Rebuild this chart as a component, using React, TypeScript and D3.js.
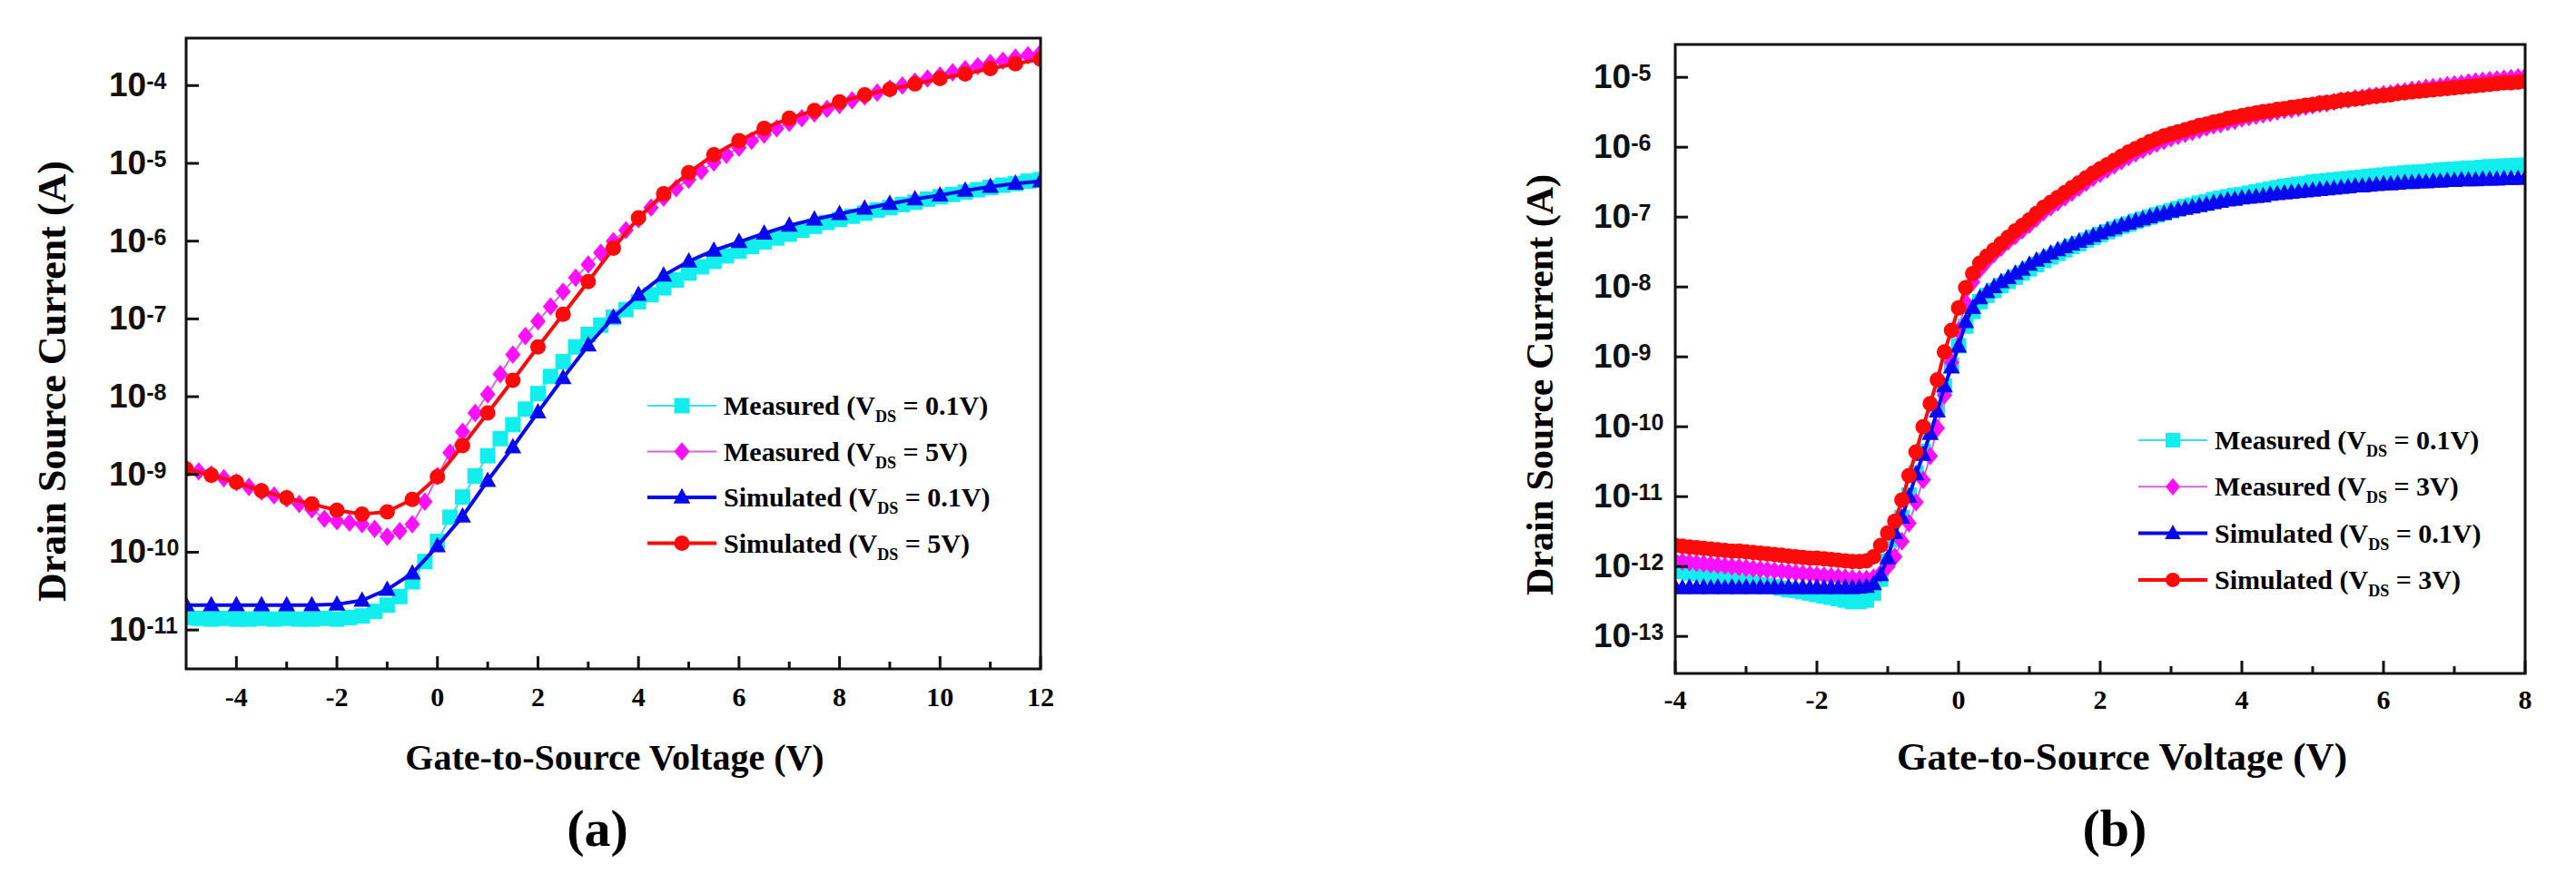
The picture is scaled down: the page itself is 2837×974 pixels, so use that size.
import React, { useRef, useEffect } from "react";
import * as d3 from "d3";

// ---------- panel (a): transfer curves, Vgs from -5 to 12 V ----------
// currents are given as log10(Ids / A)
const vgsMeasA = d3.range(69).map(i => -5 + i * 0.25); // measured sweep, 0.25 V step
const vgsSimA = d3.range(35).map(i => -5 + i * 0.5); // simulated points, 0.5 V step

const measA_01 = [
  -10.84, -10.85, -10.86, -10.85, -10.86, -10.86, -10.85, -10.86, -10.85, -10.86, -10.86, -10.85, -10.86, -10.84,
  -10.82, -10.76, -10.68, -10.57, -10.38, -10.12, -9.86,
  -9.55, -9.29, -9.02, -8.76, -8.54, -8.36, -8.16, -7.96, -7.74, -7.55, -7.36, -7.20,
  -7.08, -6.98, -6.88, -6.78, -6.69, -6.60, -6.50, -6.41, -6.33, -6.26, -6.19, -6.13,
  -6.07, -6.01, -5.96, -5.91, -5.86, -5.81, -5.76, -5.72, -5.68, -5.64, -5.60, -5.57,
  -5.53, -5.50, -5.46, -5.43, -5.40, -5.37, -5.34, -5.31, -5.28, -5.26, -5.23, -5.21,
];
const measA_5 = [
  -8.92, -8.96, -9.0, -9.05, -9.1, -9.16, -9.22, -9.27, -9.31, -9.38, -9.45, -9.57, -9.6, -9.62,
  -9.64, -9.7, -9.8, -9.73, -9.64, -9.35, -9.02,
  -8.72, -8.45, -8.21, -7.97, -7.71, -7.46, -7.22, -7.03, -6.84, -6.65, -6.47, -6.3,
  -6.15, -6.0, -5.86, -5.72, -5.57, -5.44, -5.32, -5.21, -5.1, -4.99, -4.89, -4.8,
  -4.71, -4.63, -4.55, -4.48, -4.42, -4.36, -4.3, -4.25, -4.19, -4.14, -4.09, -4.04,
  -4.0, -3.95, -3.91, -3.87, -3.83, -3.79, -3.75, -3.71, -3.68, -3.64, -3.61, -3.58,
];
const simA_01 = [
  -10.68, -10.68, -10.68, -10.68, -10.68, -10.68, -10.67, -10.62, -10.48, -10.27, -9.92, -9.54,
  -9.08, -8.65, -8.2, -7.76, -7.34, -6.98, -6.69, -6.44, -6.26, -6.12, -6.01, -5.9,
  -5.8, -5.72, -5.65, -5.58, -5.52, -5.46, -5.41, -5.35, -5.3, -5.26, -5.23,
];
const simA_5 = [
  -8.93, -9.01, -9.1, -9.21, -9.3, -9.38, -9.46, -9.51, -9.48, -9.32, -9.03, -8.63,
  -8.21, -7.79, -7.36, -6.94, -6.52, -6.09, -5.7, -5.39, -5.12, -4.89, -4.71, -4.55,
  -4.42, -4.32, -4.21, -4.12, -4.05, -3.98, -3.91, -3.85, -3.78, -3.72, -3.66,
];
const xMajorA = [-4, -2, 0, 2, 4, 6, 8, 10, 12];
const xMinorA = [-3, -1, 1, 3, 5, 7, 9, 11];
const yExpA = [-4, -5, -6, -7, -8, -9, -10, -11];
const vdsLabelsA = ["0.1V", "5V", "0.1V", "5V"];

// ---------- panel (b): Vgs from -4 to 8 V, dense sweep ----------
const vgsB = d3.range(121).map(i => -4 + i * 0.1);

const measB_01 = [
  -12.05, -12.07, -12.09, -12.1, -12.12, -12.14, -12.16, -12.17, -12.19, -12.21,
  -12.22, -12.24, -12.26, -12.27, -12.29, -12.31, -12.33, -12.34, -12.36, -12.38,
  -12.4, -12.42, -12.44, -12.46, -12.48, -12.5, -12.5, -12.48, -12.38, -12.18,
  -11.92, -11.62, -11.3, -10.98, -10.66, -10.35, -10.05, -9.74, -9.42, -9.12,
  -8.84, -8.56, -8.35, -8.21, -8.12, -8.05, -7.98, -7.92, -7.86, -7.8,
  -7.74, -7.68, -7.62, -7.57, -7.52, -7.47, -7.42, -7.38, -7.33, -7.29,
  -7.25, -7.21, -7.17, -7.13, -7.1, -7.06, -7.03, -7.0, -6.97, -6.94,
  -6.91, -6.88, -6.85, -6.83, -6.8, -6.78, -6.75, -6.73, -6.71, -6.69,
  -6.68, -6.66, -6.64, -6.62, -6.6, -6.58, -6.56, -6.55, -6.53, -6.52,
  -6.5, -6.49, -6.48, -6.47, -6.46, -6.45, -6.44, -6.43, -6.42, -6.41,
  -6.4, -6.39, -6.38, -6.37, -6.36, -6.36, -6.35, -6.34, -6.33, -6.32,
  -6.32, -6.31, -6.3, -6.3, -6.29, -6.28, -6.28, -6.27, -6.27, -6.26,
  -6.26,
];
const measB_3 = [
  -11.92, -11.93, -11.94, -11.95, -11.96, -11.97, -11.98, -11.99, -12.0, -12.01,
  -12.02, -12.03, -12.04, -12.05, -12.06, -12.07, -12.08, -12.09, -12.1, -12.11,
  -12.12, -12.13, -12.14, -12.15, -12.16, -12.17, -12.18, -12.18, -12.16, -12.1,
  -12.0, -11.86, -11.64, -11.38, -11.08, -10.76, -10.42, -10.02, -9.55, -9.08,
  -8.62, -8.22, -7.93, -7.75, -7.63, -7.53, -7.44, -7.35, -7.27, -7.19,
  -7.11, -7.02, -6.93, -6.86, -6.79, -6.72, -6.65, -6.58, -6.51, -6.44,
  -6.38, -6.32, -6.26, -6.2, -6.14, -6.09, -6.04, -5.99, -5.95, -5.91,
  -5.87, -5.84, -5.81, -5.78, -5.75, -5.72, -5.69, -5.67, -5.64, -5.62,
  -5.59, -5.57, -5.55, -5.53, -5.51, -5.49, -5.47, -5.46, -5.44, -5.42,
  -5.4, -5.38, -5.37, -5.35, -5.33, -5.32, -5.3, -5.29, -5.27, -5.26,
  -5.24, -5.23, -5.21, -5.2, -5.18, -5.17, -5.15, -5.14, -5.13, -5.11,
  -5.1, -5.09, -5.07, -5.06, -5.05, -5.04, -5.03, -5.02, -5.01, -5.0,
  -4.99,
];
const simB_01 = [
  -12.3, -12.31, -12.3, -12.31, -12.3, -12.31, -12.3, -12.31, -12.3, -12.31,
  -12.3, -12.31, -12.3, -12.31, -12.3, -12.31, -12.3, -12.31, -12.3, -12.31,
  -12.3, -12.31, -12.3, -12.31, -12.3, -12.31, -12.3, -12.29, -12.25, -12.12,
  -11.88, -11.52, -11.3, -11.0, -10.68, -10.4, -10.1, -9.78, -9.42, -9.15,
  -8.85, -8.5, -8.3, -8.16, -8.07, -8.0, -7.93, -7.87, -7.81, -7.75,
  -7.68, -7.62, -7.57, -7.52, -7.47, -7.43, -7.39, -7.35, -7.31, -7.27,
  -7.23, -7.19, -7.16, -7.12, -7.09, -7.06, -7.03, -7.0, -6.97, -6.95,
  -6.92, -6.9, -6.88, -6.86, -6.84, -6.82, -6.8, -6.78, -6.76, -6.75,
  -6.73, -6.72, -6.71, -6.7, -6.68, -6.67, -6.66, -6.65, -6.64, -6.63,
  -6.62, -6.61, -6.6, -6.59, -6.58, -6.57, -6.56, -6.56, -6.55, -6.54,
  -6.53, -6.53, -6.52, -6.51, -6.51, -6.5, -6.5, -6.49, -6.49, -6.48,
  -6.48, -6.47, -6.47, -6.47, -6.46, -6.46, -6.46, -6.45, -6.45, -6.45,
  -6.44,
];
const simB_3 = [
  -11.7, -11.71, -11.72, -11.73, -11.74, -11.75, -11.76, -11.77, -11.78, -11.78,
  -11.79, -11.8, -11.81, -11.82, -11.83, -11.84, -11.85, -11.86, -11.87, -11.88,
  -11.88, -11.89, -11.9, -11.91, -11.92, -11.93, -11.93, -11.92, -11.86, -11.7,
  -11.52, -11.35, -11.05, -10.7, -10.36, -10.0, -9.67, -9.33, -8.93, -8.62,
  -8.3, -8.01, -7.81, -7.66, -7.56, -7.47, -7.38, -7.29, -7.2, -7.12,
  -7.04, -6.95, -6.86, -6.79, -6.72, -6.65, -6.58, -6.51, -6.44, -6.37,
  -6.31, -6.25, -6.19, -6.13, -6.07, -6.02, -5.97, -5.92, -5.88, -5.84,
  -5.81, -5.78, -5.75, -5.72, -5.69, -5.67, -5.64, -5.62, -5.59, -5.57,
  -5.55, -5.53, -5.51, -5.49, -5.48, -5.46, -5.45, -5.43, -5.42, -5.4,
  -5.39, -5.37, -5.36, -5.35, -5.33, -5.32, -5.31, -5.3, -5.28, -5.27,
  -5.26, -5.25, -5.23, -5.22, -5.21, -5.2, -5.19, -5.18, -5.17, -5.16,
  -5.15, -5.14, -5.13, -5.12, -5.11, -5.1, -5.09, -5.08, -5.08, -5.07,
  -5.06,
];
const xMajorB = [-4, -2, 0, 2, 4, 6, 8];
const xMinorB = [-3, -1, 1, 3, 5, 7];
const yExpB = [-5, -6, -7, -8, -9, -10, -11, -12, -13];
const vdsLabelsB = ["0.1V", "3V", "0.1V", "3V"];

const legendNames = ["Measured", "Measured", "Simulated", "Simulated"];

const SERIF = "'Liberation Serif', 'Times New Roman', serif";
const SANS = "'Liberation Sans', Arial, sans-serif";

// marker shapes, size = edge length squared
const squareSym = { draw(c, s) { const h = Math.sqrt(s) / 2; c.rect(-h, -h, 2 * h, 2 * h); } };
const diamondSym = { draw(c, s) { const h = Math.sqrt(s) / 2; c.moveTo(0, -h * 1.2); c.lineTo(h, 0); c.lineTo(0, h * 1.2); c.lineTo(-h, 0); c.closePath(); } };
const triangleSym = { draw(c, s) { const h = Math.sqrt(s) / 2; c.moveTo(0, -h * 1.2); c.lineTo(h * 1.1, h * 0.8); c.lineTo(-h * 1.1, h * 0.8); c.closePath(); } };
const circleSym = { draw(c, s) { const h = Math.sqrt(s) / 2; c.moveTo(h, 0); c.arc(0, 0, h, 0, 2 * Math.PI); } };

const seriesStyle = [
  { fill: "#12eeee", line: "#3ae0e0", lw: 2, shape: squareSym },
  { fill: "#ff10ff", line: "#d466d8", lw: 2, shape: diamondSym },
  { fill: "#0808f0", line: "#0808f0", lw: 4, shape: triangleSym },
  { fill: "#ff0a0a", line: "#ff0a0a", lw: 4, shape: circleSym },
];

const panelA = {
  id: "a", left: 205, right: 1146, top: 42, bottom: 737,
  xDomain: [-5, 12], yDomain: [Math.pow(10, -11.5), Math.pow(10, -3.39)],
  xMajor: xMajorA, xMinor: xMinorA, yExp: yExpA,
  series: [
    [vgsMeasA, measA_01], [vgsMeasA, measA_5], [vgsSimA, simA_01], [vgsSimA, simA_5],
  ],
  mSize: 17, legSize: 17, vds: vdsLabelsA,
  yLabX: 120, xTickY: 778, xTitleX: 677, xTitleY: 848, xTitleSize: 40,
  yTitleX: 72, yTitleY: 420, yTitleSize: 44,
  tag: "(a)", tagX: 658, tagY: 932,
  legX: 713, legY: 447, legStep: 50.5,
};
const panelB = {
  id: "b", left: 1845, right: 2781, top: 49, bottom: 742,
  xDomain: [-4, 8], yDomain: [Math.pow(10, -13.53), Math.pow(10, -4.53)],
  xMajor: xMajorB, xMinor: xMinorB, yExp: yExpB,
  series: [
    [vgsB, measB_01], [vgsB, measB_3], [vgsB, simB_01], [vgsB, simB_3],
  ],
  mSize: 17, legSize: 16, vds: vdsLabelsB,
  yLabX: 1755, xTickY: 781, xTitleX: 2337, xTitleY: 848, xTitleSize: 43,
  yTitleX: 1710, yTitleY: 424, yTitleSize: 42,
  tag: "(b)", tagX: 2329, tagY: 932,
  legX: 2355, legY: 485, legStep: 51.3,
};

function drawPanel(root, p) {
  const g = root.append("g");
  const x = d3.scaleLinear().domain(p.xDomain).range([p.left, p.right]);
  const y = d3.scaleLog().domain(p.yDomain).range([p.bottom, p.top]);

  g.append("clipPath").attr("id", "clip-" + p.id)
    .append("rect").attr("x", p.left).attr("y", p.top)
    .attr("width", p.right - p.left).attr("height", p.bottom - p.top);

  const plot = g.append("g").attr("clip-path", `url(#clip-${p.id})`);
  const line = d3.line().x(d => x(d[0])).y(d => y(d[1]));

  p.series.forEach(([vs, logI], k) => {
    const st = seriesStyle[k];
    const pts = vs.map((v, i) => [v, Math.pow(10, logI[i])]);
    plot.append("path").attr("d", line(pts)).attr("fill", "none")
      .attr("stroke", st.line).attr("stroke-width", st.lw);
    plot.append("g").selectAll("path").data(pts).join("path")
      .attr("transform", d => `translate(${x(d[0])},${y(d[1])})`)
      .attr("d", d3.symbol().type(st.shape).size(p.mSize * p.mSize))
      .attr("fill", st.fill);
  });

  // frame
  g.append("rect").attr("x", p.left).attr("y", p.top)
    .attr("width", p.right - p.left).attr("height", p.bottom - p.top)
    .attr("fill", "none").attr("stroke", "#111").attr("stroke-width", 3);

  // bottom ticks, pointing inward
  g.selectAll(null).data(p.xMajor).join("line")
    .attr("x1", d => x(d)).attr("x2", d => x(d))
    .attr("y1", p.bottom).attr("y2", p.bottom - 14)
    .attr("stroke", "#111").attr("stroke-width", 3);
  g.selectAll(null).data(p.xMinor).join("line")
    .attr("x1", d => x(d)).attr("x2", d => x(d))
    .attr("y1", p.bottom).attr("y2", p.bottom - 8)
    .attr("stroke", "#111").attr("stroke-width", 3);
  g.selectAll(null).data(p.xMajor).join("text")
    .attr("x", d => x(d)).attr("y", p.xTickY)
    .attr("text-anchor", "middle").attr("font-family", SERIF)
    .attr("font-weight", "bold").attr("font-size", 30)
    .text(d => d);

  // left ticks at each decade
  g.selectAll(null).data(p.yExp).join("line")
    .attr("x1", p.left).attr("x2", p.left + 14)
    .attr("y1", d => y(Math.pow(10, d))).attr("y2", d => y(Math.pow(10, d)))
    .attr("stroke", "#111").attr("stroke-width", 3);
  const yl = g.selectAll(null).data(p.yExp).join("text")
    .attr("x", p.yLabX).attr("y", d => y(Math.pow(10, d)) + 12)
    .attr("font-family", SANS).attr("font-weight", "bold")
    .attr("font-size", 37).attr("fill", "#111");
  yl.append("tspan").text("10");
  yl.append("tspan").attr("font-size", 25).attr("dy", -8).text(d => d);

  // axis titles
  g.append("text").attr("x", p.xTitleX).attr("y", p.xTitleY)
    .attr("text-anchor", "middle").attr("font-family", SERIF)
    .attr("font-weight", "bold").attr("font-size", p.xTitleSize)
    .text("Gate-to-Source Voltage (V)");
  g.append("text")
    .attr("transform", `translate(${p.yTitleX},${p.yTitleY}) rotate(-90)`)
    .attr("text-anchor", "middle").attr("font-family", SERIF)
    .attr("font-weight", "bold").attr("font-size", p.yTitleSize)
    .text("Drain Source Current (A)");
  g.append("text").attr("x", p.tagX).attr("y", p.tagY)
    .attr("text-anchor", "middle").attr("font-family", SERIF)
    .attr("font-weight", "bold").attr("font-size", 58)
    .text(p.tag);

  // legend
  legendNames.forEach((name, k) => {
    const st = seriesStyle[k];
    const ly = p.legY + k * p.legStep;
    g.append("line").attr("x1", p.legX).attr("x2", p.legX + 76)
      .attr("y1", ly).attr("y2", ly)
      .attr("stroke", st.line).attr("stroke-width", st.lw);
    g.append("path").attr("transform", `translate(${p.legX + 38},${ly})`)
      .attr("d", d3.symbol().type(st.shape).size(p.legSize * p.legSize))
      .attr("fill", st.fill);
    const t = g.append("text").attr("x", p.legX + 84).attr("y", ly + 10)
      .attr("font-family", SERIF).attr("font-weight", "bold").attr("font-size", 30);
    t.append("tspan").text(`${name} (V`);
    t.append("tspan").attr("font-size", 18).attr("dy", 8).text("DS");
    t.append("tspan").attr("dy", -8).text(` = ${p.vds[k]})`);
  });
}

export default function App() {
  const svgRef = useRef(null);

  useEffect(() => {
    const svg = d3.select(svgRef.current);
    svg.selectAll("*").remove();
    drawPanel(svg, panelA);
    drawPanel(svg, panelB);
  }, []);

  return (
    <svg
      ref={svgRef}
      width={2837}
      height={974}
      style={{ position: "absolute", left: 0, top: 0, background: "#fff" }}
    />
  );
}
